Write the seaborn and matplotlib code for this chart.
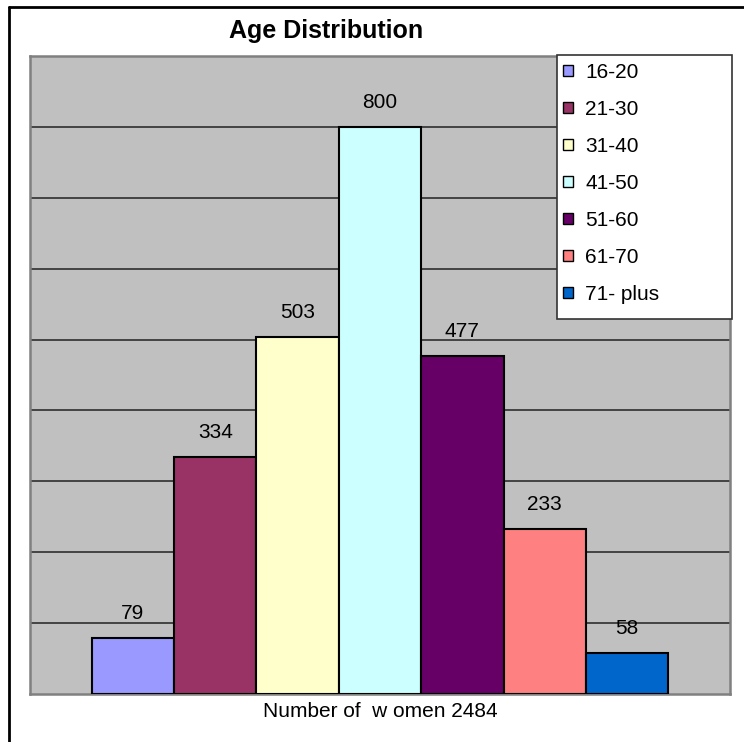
import matplotlib
matplotlib.use('Agg')
import matplotlib.pyplot as plt
from matplotlib.patches import Rectangle
from matplotlib.lines import Line2D
import seaborn as sns
import pandas as pd

# ---- data ----
age_groups = ['16-20', '21-30', '31-40', '41-50', '51-60', '61-70', '71- plus']
women_counts = [79, 334, 503, 800, 477, 233, 58]
bar_colors = ['#9999FF', '#993366', '#FFFFCC', '#CCFFFF', '#660066', '#FF8080', '#0066CC']
x_label = 'Number of  w omen 2484'
title = 'Age Distribution'

df = pd.DataFrame({'group': [x_label] * len(age_groups),
                   'age': age_groups,
                   'count': women_counts})

# ---- style ----
sns.set_style('white')
plt.rcParams['font.family'] = ['Liberation Sans', 'DejaVu Sans']
plt.rcParams['text.color'] = 'black'
plt.rcParams['axes.labelcolor'] = 'black'

W, H = 744, 742
fig = plt.figure(figsize=(W / 100, H / 100), dpi=100)
ax = fig.add_axes([30 / W, 1 - 694 / H, 700 / W, 638 / H])
ax.set_facecolor('#C0C0C0')

sns.barplot(data=df, x='group', y='count', hue='age', hue_order=age_groups,
            palette=bar_colors, width=0.824, edgecolor='black', linewidth=1.5,
            saturation=1, ax=ax, zorder=3)

ax.set_ylim(0, 900)
ax.set_xlim(-0.5, 0.5)
ax.set_yticks(range(100, 900, 100))
ax.yaxis.grid(True, color='#222222', linewidth=1.1, zorder=0)
ax.set_axisbelow(True)
ax.tick_params(left=False, bottom=False, labelleft=False, labelbottom=False)
ax.set_ylabel('')
ax.set_xlabel(x_label, fontsize=15, labelpad=6, color='black')
for s in ax.spines.values():
    s.set_color('#808080')
    s.set_linewidth(1.8)

for c in ax.containers:
    ax.bar_label(c, fontsize=15, padding=11, color='black')

# legend with white box
handles, labels = ax.get_legend_handles_labels()
if ax.legend_:
    ax.legend_.remove()
box = Rectangle((557 / W, 1 - 319 / H), 175 / W, 264 / H, transform=fig.transFigure,
                facecolor='white', edgecolor='#333333', linewidth=1.2, zorder=6)
fig.add_artist(box)
leg = fig.legend(handles, labels, loc='upper left', bbox_to_anchor=(559 / W, 1 - 59 / H),
                 frameon=False, fontsize=15, handlelength=0.45, handleheight=0.45,
                 handletextpad=0.6, labelspacing=0.86, borderpad=0.2, borderaxespad=0)
for h in leg.legend_handles:
    h.set_linewidth(1.0)
leg.set_zorder(7)

# title
fig.text(326 / W, 1 - 38 / H, title, ha='center', va='baseline',
         fontsize=18, fontweight='bold', color='black')

# outer chart border (left and top visible)
fig.add_artist(Line2D([9 / W, 9 / W], [0, 1 - 7 / H], color='black', linewidth=2))
fig.add_artist(Line2D([9 / W, 1], [1 - 7 / H, 1 - 7 / H], color='black', linewidth=2))

fig.savefig('out.png', dpi=100)
